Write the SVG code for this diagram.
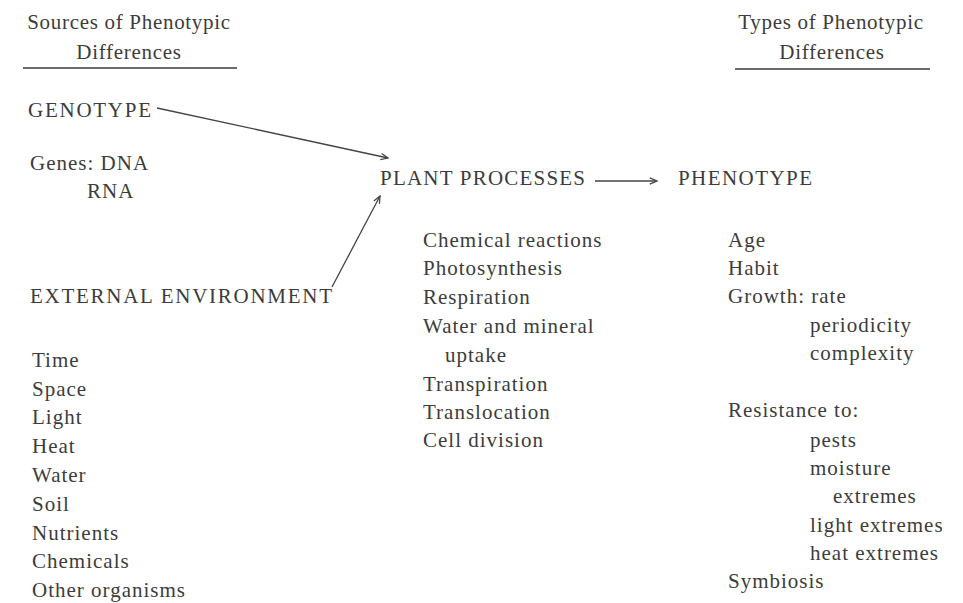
<svg xmlns="http://www.w3.org/2000/svg" width="963" height="603" viewBox="0 0 963 603">
<defs>
<style>
text{font-family:"Liberation Serif","DejaVu Serif",serif;font-size:21px;fill:#3c3c3c;letter-spacing:1px}
.h{text-anchor:middle;letter-spacing:0.7px}
.rule{stroke:#3a3a3a;stroke-width:1.4}
.conn{stroke:#444444;stroke-width:1.3;fill:none;marker-end:url(#ah)}
</style>
<marker id="ah" viewBox="0 0 10 10" refX="9" refY="5" markerWidth="9" markerHeight="9" markerUnits="userSpaceOnUse" orient="auto">
<path d="M1,1.5 L9,5 L1,8.5" fill="none" stroke="#444444" stroke-width="1.4"/>
</marker>
</defs>
<rect width="963" height="603" fill="#ffffff"/>

<g id="header-sources">
<text class="h" x="129" y="29">Sources of Phenotypic</text>
<text class="h" x="129" y="59">Differences</text>
<line class="rule" x1="23" y1="68" x2="237" y2="68"/>
</g>
<g id="header-types">
<text class="h" x="831" y="29">Types of Phenotypic</text>
<text class="h" x="832" y="59">Differences</text>
<line class="rule" x1="735" y1="69" x2="930" y2="69"/>
</g>

<g id="genotype">
<text x="28" y="117" textLength="124" lengthAdjust="spacing">GENOTYPE</text>
<text x="30" y="170">Genes: DNA</text>
<text x="87" y="198">RNA</text>
</g>

<g id="environment">
<text x="30" y="303" textLength="303" lengthAdjust="spacing">EXTERNAL ENVIRONMENT</text>
<text x="32" y="367">Time</text>
<text x="32" y="396">Space</text>
<text x="32" y="424">Light</text>
<text x="32" y="453">Heat</text>
<text x="32" y="482">Water</text>
<text x="32" y="511">Soil</text>
<text x="32" y="540">Nutrients</text>
<text x="32" y="568">Chemicals</text>
<text x="32" y="597">Other organisms</text>
</g>

<g id="plant-processes">
<text x="380" y="185" textLength="206" lengthAdjust="spacing">PLANT PROCESSES</text>
<text x="423" y="247">Chemical reactions</text>
<text x="423" y="275">Photosynthesis</text>
<text x="423" y="304">Respiration</text>
<text x="423" y="333">Water and mineral</text>
<text x="445" y="362">uptake</text>
<text x="423" y="391">Transpiration</text>
<text x="423" y="419">Translocation</text>
<text x="423" y="447">Cell division</text>
</g>

<g id="phenotype">
<text x="678" y="185" textLength="135" lengthAdjust="spacing">PHENOTYPE</text>
<text x="728" y="247">Age</text>
<text x="728" y="275">Habit</text>
<text x="728" y="303">Growth: rate</text>
<text x="810" y="332">periodicity</text>
<text x="810" y="360">complexity</text>
<text x="728" y="417">Resistance to:</text>
<text x="810" y="447">pests</text>
<text x="810" y="475">moisture</text>
<text x="833" y="503">extremes</text>
<text x="810" y="532">light extremes</text>
<text x="810" y="560">heat extremes</text>
<text x="728" y="588">Symbiosis</text>
</g>

<g id="connectors">
<line class="conn" x1="157" y1="108" x2="388" y2="158"/>
<line class="conn" x1="332" y1="287" x2="380" y2="196"/>
<line class="conn" x1="595" y1="181" x2="657" y2="181"/>
</g>
</svg>
